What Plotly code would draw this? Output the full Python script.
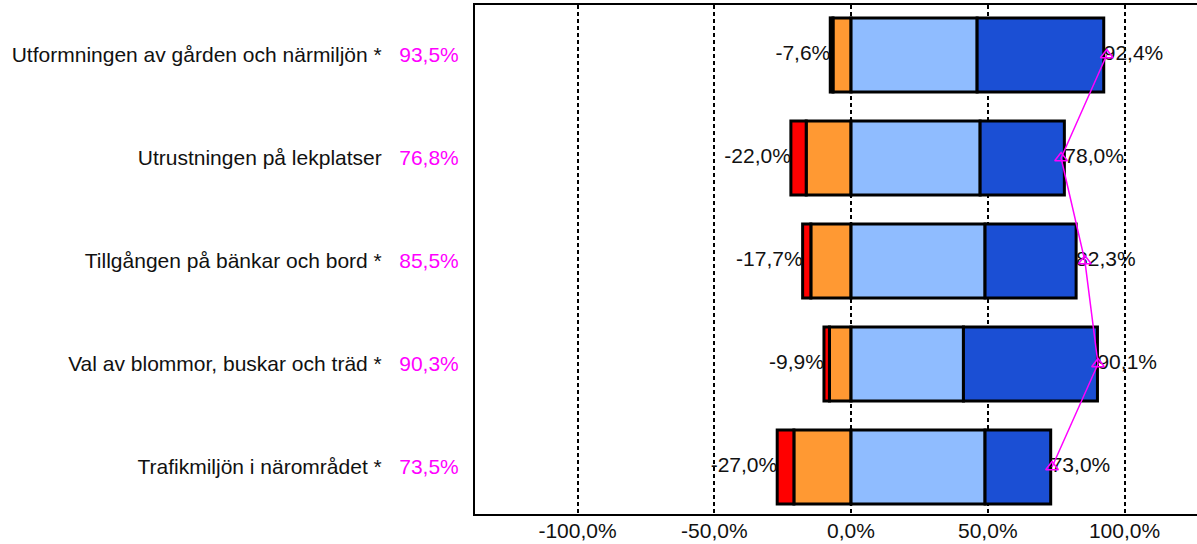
import plotly.graph_objects as go

# Chart data
categories = [
    "Utformningen av gården och närmiljön *",
    "Utrustningen på lekplatser",
    "Tillgången på bänkar och bord *",
    "Val av blommor, buskar och träd *",
    "Trafikmiljön i närområdet *",
]
very_negative = [1.0, 5.6, 3.0, 2.0, 6.1]
negative = [6.6, 16.4, 14.7, 7.9, 20.9]
positive = [46.1, 47.2, 49.0, 41.1, 49.0]
very_positive = [46.3, 30.8, 33.3, 49.0, 24.0]
index_values = [93.5, 76.8, 85.5, 90.3, 73.5]
x_ticks = [-100, -50, 0, 50, 100]


def pct(v):
    return f"{v:.1f}%".replace(".", ",")


neg_total = [-(a + b) for a, b in zip(very_negative, negative)]
pos_total = [a + b for a, b in zip(positive, very_positive)]

# Category labels with the magenta index value next to them
tick_text = [
    f"{c}\u00a0\u00a0\u00a0<span style='color:#ff00ff'>{pct(v)}</span>"
    for c, v in zip(categories, index_values)
]

font = dict(family="Liberation Sans, Arial, sans-serif", size=21, color="#111111")
border = dict(color="black", width=3)

fig = go.Figure()

# Negative side: orange first so red ends up furthest out
fig.add_trace(go.Bar(y=categories, x=[-v for v in negative], orientation="h",
                     marker=dict(color="#ff9933", line=border), width=0.72))
fig.add_trace(go.Bar(y=categories, x=[-v for v in very_negative], orientation="h",
                     marker=dict(color="#ff0000", line=border), width=0.72))
# Positive side
fig.add_trace(go.Bar(y=categories, x=positive, orientation="h",
                     marker=dict(color="#8fbcff", line=border), width=0.72))
fig.add_trace(go.Bar(y=categories, x=very_positive, orientation="h",
                     marker=dict(color="#1b4fd4", line=border), width=0.72))

# Totals on each side
fig.add_trace(go.Scatter(y=categories, x=neg_total, mode="text",
                         text=[pct(v) for v in neg_total],
                         textposition="middle left", textfont=font))
fig.add_trace(go.Scatter(y=categories, x=pos_total, mode="text",
                         text=[pct(v) for v in pos_total],
                         textposition="middle right", textfont=font))

# Index line
fig.add_trace(go.Scatter(y=categories, x=index_values, mode="lines+markers",
                         line=dict(color="#ff00ff", width=1.5),
                         marker=dict(symbol="triangle-up-open", size=11,
                                     color="#ff00ff", line=dict(width=1.5))))

fig.update_layout(
    barmode="relative",
    width=1197,
    height=544,
    margin=dict(l=475, r=0, t=5, b=30),
    plot_bgcolor="white",
    paper_bgcolor="white",
    showlegend=False,
    font=font,
)
fig.update_xaxes(
    range=[-137.5, 126.5],
    tickvals=x_ticks,
    ticktext=[pct(v) for v in x_ticks],
    showgrid=True,
    gridcolor="black",
    gridwidth=1.5,
    griddash="4px,3px",
    zeroline=False,
    showline=True,
    linecolor="black",
    linewidth=2,
    mirror=True,
    ticks="",
    ticklabelstandoff=-3,
    tickfont=font,
)
fig.update_yaxes(
    categoryorder="array",
    categoryarray=categories,
    range=[4.456, -0.485],
    tickvals=categories,
    ticktext=tick_text,
    showgrid=False,
    showline=True,
    linecolor="black",
    linewidth=2,
    ticks="",
    ticklabelstandoff=10,
    tickfont=font,
)

# drop the default page margin so the figure sits at the window's corner
fig.write_html("out.html", config={"displayModeBar": False},
               post_script="document.body.style.margin='0';")
